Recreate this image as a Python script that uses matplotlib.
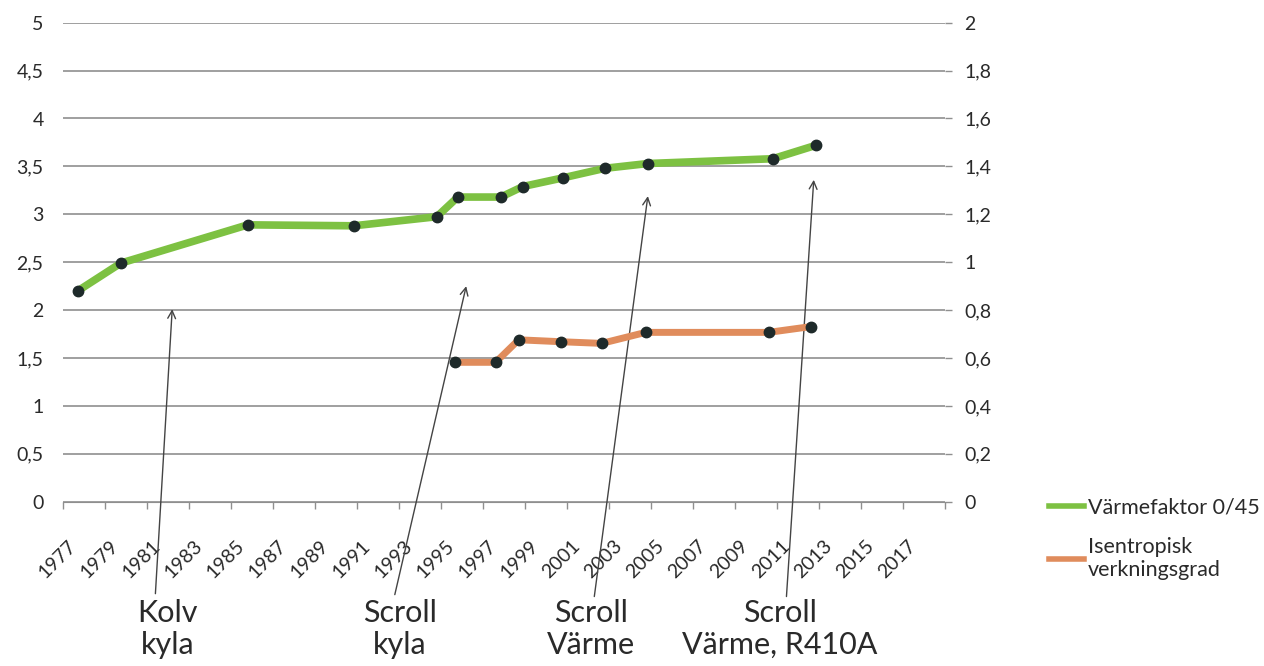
import numpy as np
import matplotlib.pyplot as plt
from matplotlib.lines import Line2D
from matplotlib.ticker import FixedLocator, FuncFormatter

plt.rcParams['font.family'] = ['Lato', 'DejaVu Sans']

#%% data
# Värmefaktor 0/45 (left axis)
cop_year = [1977.2, 1979.25, 1985.3, 1990.35, 1994.3, 1995.3, 1997.35, 1998.4,
            2000.3, 2002.3, 2004.35, 2010.3, 2012.35]
cop_value = [2.20, 2.49, 2.89, 2.88, 2.975, 3.18, 3.18, 3.29, 3.38, 3.48, 3.53, 3.58, 3.72]

# Isentropisk verkningsgrad (right axis)
eta_year = [1995.15, 1997.1, 1998.2, 2000.2, 2002.15, 2004.25, 2010.1, 2012.1]
eta_value = [0.582, 0.582, 0.676, 0.668, 0.661, 0.707, 0.707, 0.731]

year_labels = list(range(1977, 2018, 2))
left_ticks = [0, 0.5, 1, 1.5, 2, 2.5, 3, 3.5, 4, 4.5, 5]
right_ticks = [0, 0.2, 0.4, 0.6, 0.8, 1, 1.2, 1.4, 1.6, 1.8, 2]

# compressor notes: text, text x, arrow tail (x, y), arrow tip (x, y) in left-axis units
notes = [
    ("Kolv\nkyla", 1981.5, (1980.9, -0.96), (1981.7, 2.01)),
    ("Scroll\nkyla", 1992.55, (1992.3, -0.97), (1995.7, 2.25)),
    ("Scroll\nVärme", 2001.65, (2001.8, -0.99), (2004.35, 3.19)),
    ("Scroll\nVärme, R410A", 2010.65, (2010.95, -0.99), (2012.25, 3.36)),
]

green = '#7dc142'
orange = '#e08c5c'
dot = '#1e2a2a'
grid_c = '#8f8f8f'
text_c = '#2a2a2a'

#%% figure
fig = plt.figure(figsize=(12.64, 6.66), dpi=100)
ax = fig.add_axes([63 / 1264, 1 - 501.7 / 666, 882 / 1264, 479 / 666])
ax2 = ax.twinx()

ax.set_xlim(1976.5, 2018.5)
ax.set_ylim(0, 5)
ax2.set_ylim(0, 2)

for s in ['top', 'right', 'left']:
    ax.spines[s].set_visible(False)
    ax2.spines[s].set_visible(False)
ax.spines['bottom'].set_color(grid_c)
ax2.spines['bottom'].set_visible(False)

ax.yaxis.set_major_locator(FixedLocator(left_ticks))
ax2.yaxis.set_major_locator(FixedLocator(right_ticks))
comma = FuncFormatter(lambda v, p: f"{v:g}".replace('.', ','))
ax.yaxis.set_major_formatter(comma)
ax2.yaxis.set_major_formatter(comma)
ax.grid(axis='y', color=grid_c, lw=1.2)
ax.set_axisbelow(True)

ax.tick_params(axis='y', length=0, pad=14, labelsize=14, labelcolor=text_c)
ax2.tick_params(axis='y', length=5, width=1, color=grid_c, pad=9, labelsize=14, labelcolor=text_c)

ax.set_xticks(year_labels)
ax.set_xticklabels([str(y) for y in year_labels], rotation=45, ha='right', va='center',
                   rotation_mode='anchor', fontsize=14, color=text_c)
ax.set_xticks(np.arange(1976.5, 2018.6, 2.0), minor=True)
ax.tick_params(axis='x', which='major', length=0, pad=30)
ax.tick_params(axis='x', which='minor', length=5, width=1, color=grid_c, direction='out')

#%% series
ax.plot(cop_year, cop_value, color=green, lw=5.5, solid_capstyle='butt', zorder=3,
        marker='o', markersize=7.5, markerfacecolor=dot, markeredgecolor=dot)
ax2.plot(eta_year, eta_value, color=orange, lw=5, solid_capstyle='butt', zorder=3,
         marker='o', markersize=7.5, markerfacecolor=dot, markeredgecolor=dot)

#%% annotations
for label, tx, tail, tip in notes:
    ax.annotate('', xy=tip, xytext=tail, annotation_clip=False,
                arrowprops=dict(arrowstyle='->', color='#444444', lw=1.0,
                                shrinkA=0, shrinkB=0, mutation_scale=14))
    ax.text(tx, -1.02, label, ha='center', va='top', fontsize=22, linespacing=1.15,
            color=text_c, clip_on=False)

#%% legend
handles = [Line2D([], [], color=green, lw=4), Line2D([], [], color=orange, lw=4)]
fig.legend(handles, ['Värmefaktor 0/45', 'Isentropisk\nverkningsgrad'],
           loc='upper left', bbox_to_anchor=(1030 / 1264, 1 - 478 / 666), frameon=False,
           fontsize=15.5, handlelength=1.6, handletextpad=0.2, labelspacing=0.9,
           labelcolor=text_c)

fig.savefig('out.png', dpi=100)
